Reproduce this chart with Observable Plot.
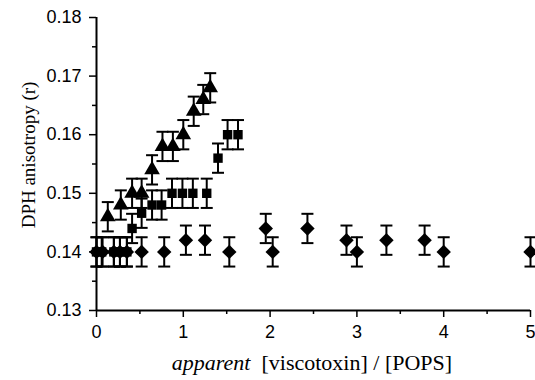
<!DOCTYPE html>
<html>
<head>
<meta charset="utf-8">
<script src="https://cdn.jsdelivr.net/npm/d3@7"></script>
<script src="https://cdn.jsdelivr.net/npm/@observablehq/plot@0.6"></script>
<style>
  html, body { margin: 0; padding: 0; background: #fff; }
  svg { display: block; }
</style>
</head>
<body>
<div id="chart"></div>
<script>
// ---- data ----
const xTicks = [0, 1, 2, 3, 4, 5];
const xMinorTicks = [0.5, 1.5, 2.5, 3.5, 4.5];
const yTicks = [0.13, 0.14, 0.15, 0.16, 0.17, 0.18];
const yMinorTicks = [0.135, 0.145, 0.155, 0.165, 0.175];

const diamondX = [0, 0.07, 0.2, 0.27, 0.35, 0.52, 0.78, 1.03, 1.25, 1.53, 1.95, 2.03, 2.43, 2.88, 3.0, 3.34, 3.78, 4.0, 5.0];
const diamondY = [0.140, 0.140, 0.140, 0.140, 0.140, 0.140, 0.140, 0.142, 0.142, 0.140, 0.144, 0.140, 0.144, 0.142, 0.140, 0.142, 0.142, 0.140, 0.140];
const diamondErr = [0.0025, 0.0025, 0.0025, 0.0025, 0.0025, 0.0025, 0.0025, 0.0025, 0.0025, 0.0025, 0.0025, 0.0025, 0.0025, 0.0025, 0.0025, 0.0025, 0.0025, 0.0025, 0.0025];

const squareX = [0, 0.06, 0.2, 0.27, 0.35, 0.41, 0.52, 0.64, 0.75, 0.87, 0.99, 1.11, 1.27, 1.40, 1.51, 1.63];
const squareY = [0.140, 0.140, 0.140, 0.140, 0.140, 0.144, 0.1466, 0.148, 0.148, 0.150, 0.150, 0.150, 0.150, 0.156, 0.160, 0.160];
const squareErr = [0.0025, 0.0025, 0.0025, 0.0025, 0.0025, 0.0025, 0.0025, 0.0025, 0.0025, 0.0025, 0.0025, 0.0025, 0.0025, 0.0025, 0.0025, 0.0025];

const triangleX = [0.13, 0.28, 0.41, 0.52, 0.64, 0.76, 0.88, 1.0, 1.12, 1.23, 1.31];
const triangleY = [0.146, 0.148, 0.150, 0.150, 0.154, 0.158, 0.158, 0.160, 0.164, 0.166, 0.168];
const triangleErr = [0.0025, 0.0025, 0.0025, 0.0025, 0.0025, 0.0025, 0.0025, 0.0025, 0.0025, 0.0025, 0.0025];

const yLabel = "DPH anisotropy (r)";
const xLabelItalic = "apparent";
const xLabelRest = "[viscotoxin] / [POPS]";

// ---- build table ----
function series(name, xs, ys, es) {
  return xs.map((x, i) => ({series: name, x, y: ys[i], err: es[i]}));
}
const diamonds = series("diamond", diamondX, diamondY, diamondErr);
const squares = series("square", squareX, squareY, squareErr);
const triangles = series("triangle", triangleX, triangleY, triangleErr);
const all = [...diamonds, ...squares, ...triangles];

// horizontal cap symbol for error bars
const capSymbol = {
  draw(context, size) {
    const r = 6;
    context.moveTo(-r, 0);
    context.lineTo(r, 0);
  }
};

const font = "Liberation Sans, Arial, sans-serif";

const plot = Plot.plot({
  width: 535,
  height: 380,
  marginLeft: 96,
  marginRight: 5,
  marginTop: 17,
  marginBottom: 70,
  style: {background: "#fff", fontFamily: font, fontSize: "18px", color: "#000", overflow: "visible"},
  x: {domain: [0, 5]},
  y: {domain: [0.13, 0.18]},
  marks: [
    // minor ticks
    Plot.axisX({ticks: xMinorTicks, tickSize: 4, text: null, strokeWidth: 1.5, label: null}),
    Plot.axisY({ticks: yMinorTicks, tickSize: 4, text: null, strokeWidth: 1.5, label: null}),
    // major ticks
    Plot.axisX({ticks: xTicks, tickSize: 7, tickPadding: 8, tickFormat: d3.format("d"), strokeWidth: 1.5, label: null, fontSize: 18}),
    Plot.axisY({ticks: yTicks, tickSize: 7, tickPadding: 8, tickFormat: d3.format(".2f"), strokeWidth: 1.5, label: null, fontSize: 18}),
    // axis lines
    Plot.ruleX([0], {stroke: "#000", strokeWidth: 2}),
    Plot.ruleY([0.13], {stroke: "#000", strokeWidth: 2}),
    // error bars
    Plot.ruleX(all, {x: "x", y1: d => d.y - d.err, y2: d => d.y + d.err, stroke: "#000", strokeWidth: 2}),
    Plot.dot(all, {x: "x", y: d => d.y - d.err, symbol: capSymbol, stroke: "#000", strokeWidth: 2, fill: "none", r: 5}),
    Plot.dot(all, {x: "x", y: d => d.y + d.err, symbol: capSymbol, stroke: "#000", strokeWidth: 2, fill: "none", r: 5}),
    // markers
    Plot.dot(diamonds, {x: "x", y: "y", symbol: "diamond2", r: 6.5, fill: "#000", stroke: "none"}),
    Plot.dot(squares, {x: "x", y: "y", symbol: "square", r: 5.3, fill: "#000", stroke: "none"}),
    Plot.dot(triangles, {x: "x", y: "y", symbol: "triangle", r: 5.8, fill: "#000", stroke: "none"})
  ]
});

const svg = d3.select(plot);
// y label
svg.append("text")
  .attr("transform", "translate(35,155) rotate(-90)")
  .attr("text-anchor", "middle")
  .attr("font-family", "Liberation Serif, Times New Roman, serif")
  .attr("font-size", 19)
  .attr("fill", "#000")
  .text(yLabel);
// x label
const xl = svg.append("text")
  .attr("x", 312)
  .attr("y", 370)
  .attr("text-anchor", "middle")
  .attr("font-family", "Liberation Serif, Times New Roman, serif")
  .attr("font-size", 22)
  .attr("fill", "#000");
xl.append("tspan").attr("font-style", "italic").text(xLabelItalic);
xl.append("tspan").text("\u00a0\u00a0" + xLabelRest);

document.getElementById("chart").appendChild(plot);
</script>
</body>
</html>
